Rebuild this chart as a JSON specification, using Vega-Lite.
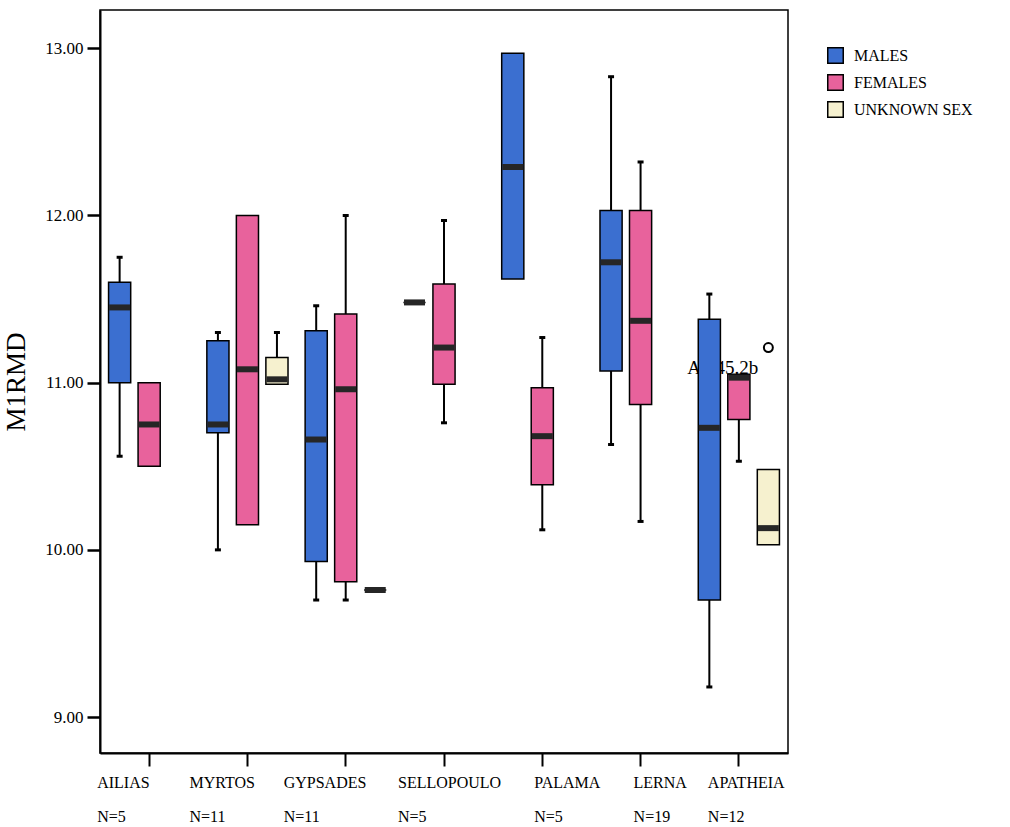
{
  "$schema": "https://vega.github.io/schema/vega-lite/v6.json",
  "width": 688,
  "height": 743,
  "autosize": {"type": "none"},
  "padding": {"left": 100, "top": 10, "right": 222, "bottom": 74},
  "background": "white",
  "config": {
    "view": {"stroke": "black", "strokeWidth": 1.5},
    "font": "Liberation Serif",
    "axis": {"grid": false, "labelColor": "black", "titleColor": "black", "labelFont": "Liberation Serif", "titleFont": "Liberation Serif", "domainColor": "black", "tickColor": "black"},
    "axisY": {"domainWidth": 2, "tickSize": 13, "tickWidth": 2.5, "labelFontSize": 17, "labelPadding": 4, "titleFontSize": 27, "titleFontWeight": "normal", "titlePadding": 14}
  },
  "datasets": {
    "boxes": [
      {"site": "AILIAS", "sex": "MALES", "lo": 10.56, "q1": 11.00, "med": 11.45, "q3": 11.60, "hi": 11.75},
      {"site": "AILIAS", "sex": "FEMALES", "lo": 10.50, "q1": 10.50, "med": 10.75, "q3": 11.00, "hi": 11.00},
      {"site": "MYRTOS", "sex": "MALES", "lo": 10.00, "q1": 10.70, "med": 10.75, "q3": 11.25, "hi": 11.30},
      {"site": "MYRTOS", "sex": "FEMALES", "lo": 10.15, "q1": 10.15, "med": 11.08, "q3": 12.00, "hi": 12.00},
      {"site": "MYRTOS", "sex": "UNKNOWN SEX", "lo": 10.99, "q1": 10.99, "med": 11.02, "q3": 11.15, "hi": 11.30},
      {"site": "GYPSADES", "sex": "MALES", "lo": 9.70, "q1": 9.93, "med": 10.66, "q3": 11.31, "hi": 11.46},
      {"site": "GYPSADES", "sex": "FEMALES", "lo": 9.70, "q1": 9.81, "med": 10.96, "q3": 11.41, "hi": 12.00},
      {"site": "GYPSADES", "sex": "UNKNOWN SEX", "lo": 9.76, "q1": 9.76, "med": 9.76, "q3": 9.76, "hi": 9.76},
      {"site": "SELLOPOULO", "sex": "MALES", "lo": 11.48, "q1": 11.48, "med": 11.48, "q3": 11.48, "hi": 11.48},
      {"site": "SELLOPOULO", "sex": "FEMALES", "lo": 10.76, "q1": 10.99, "med": 11.21, "q3": 11.59, "hi": 11.97},
      {"site": "PALAMA", "sex": "MALES", "lo": 11.62, "q1": 11.62, "med": 12.29, "q3": 12.97, "hi": 12.97},
      {"site": "PALAMA", "sex": "FEMALES", "lo": 10.12, "q1": 10.39, "med": 10.68, "q3": 10.97, "hi": 11.27},
      {"site": "LERNA", "sex": "MALES", "lo": 10.63, "q1": 11.07, "med": 11.72, "q3": 12.03, "hi": 12.83},
      {"site": "LERNA", "sex": "FEMALES", "lo": 10.17, "q1": 10.87, "med": 11.37, "q3": 12.03, "hi": 12.32},
      {"site": "APATHEIA", "sex": "MALES", "lo": 9.18, "q1": 9.70, "med": 10.73, "q3": 11.38, "hi": 11.53},
      {"site": "APATHEIA", "sex": "FEMALES", "lo": 10.53, "q1": 10.78, "med": 11.03, "q3": 11.05, "hi": 11.05},
      {"site": "APATHEIA", "sex": "UNKNOWN SEX", "lo": 10.03, "q1": 10.03, "med": 10.13, "q3": 10.48, "hi": 10.48}
    ],
    "outliers": [
      {"site": "APATHEIA", "sex": "UNKNOWN SEX", "value": 11.21, "label": "AP 45.2b"}
    ]
  },
  "encoding": {
    "x": {
      "field": "site",
      "type": "nominal",
      "scale": {"domain": ["AILIAS", "MYRTOS", "GYPSADES", "SELLOPOULO", "PALAMA", "LERNA", "APATHEIA"], "paddingInner": 0, "paddingOuter": 0},
      "axis": {
        "title": null,
        "labelExpr": "[datum.label, {'AILIAS':'N=5','MYRTOS':'N=11','GYPSADES':'N=11','SELLOPOULO':'N=5','PALAMA':'N=5','LERNA':'N=19','APATHEIA':'N=12'}[datum.label]]",
        "labelAlign": "left",
        "labelBaseline": "top",
        "labelAngle": 0,
        "labelOffset": {
          "condition": [
            {"test": "datum.value === 'AILIAS'", "value": -52},
            {"test": "datum.value === 'MYRTOS'", "value": -58},
            {"test": "datum.value === 'GYPSADES'", "value": -62},
            {"test": "datum.value === 'SELLOPOULO'", "value": -46},
            {"test": "datum.value === 'PALAMA'", "value": -8},
            {"test": "datum.value === 'LERNA'", "value": -7}
          ],
          "value": -31
        },
        "labelFontSize": 16,
        "labelLineHeight": 34,
        "labelPadding": 8,
        "tickSize": 13,
        "tickWidth": 2,
        "domainWidth": 2,
        "labelOverlap": false,
        "labelBound": false,
        "labelFlush": false
      }
    },
    "xOffset": {
      "field": "sex",
      "type": "nominal",
      "scale": {"domain": ["MALES", "FEMALES", "UNKNOWN SEX"], "paddingInner": 0.25, "paddingOuter": 0.29}
    }
  },
  "layer": [
    {
      "data": {"name": "outliers"},
      "mark": {"type": "text", "align": "right", "baseline": "middle", "dx": -10, "dy": 20, "fontSize": 19, "font": "Liberation Serif", "color": "black"},
      "encoding": {
        "y": {"field": "value", "type": "quantitative", "title": "M1RMD", "scale": {"domain": [8.785, 13.229], "nice": false, "zero": false}, "axis": {"values": [9, 10, 11, 12, 13], "format": ".2f"}},
        "text": {"field": "label", "type": "nominal"}
      }
    },
    {
      "data": {"name": "boxes"},
      "mark": {"type": "rule", "color": "black", "strokeWidth": 2},
      "encoding": {
        "y": {"field": "lo", "type": "quantitative", "title": "M1RMD"},
        "y2": {"field": "hi"}
      }
    },
    {
      "data": {"name": "boxes"},
      "mark": {"type": "bar", "stroke": "black", "strokeWidth": 1.5},
      "encoding": {
        "y": {"field": "q1", "type": "quantitative", "title": "M1RMD"},
        "y2": {"field": "q3"},
        "fill": {
          "field": "sex",
          "type": "nominal",
          "scale": {"domain": ["MALES", "FEMALES", "UNKNOWN SEX"], "range": ["#3b6fd0", "#e8629c", "#f6f1cf"]},
          "legend": {
            "title": null,
            "orient": "none",
            "legendX": 727,
            "legendY": 37,
            "symbolType": "square",
            "symbolSize": 240,
            "symbolStrokeColor": "black",
            "symbolStrokeWidth": 1.5,
            "labelFont": "Liberation Serif",
            "labelFontSize": 16,
            "labelColor": "black",
            "rowPadding": 4,
            "labelOffset": 10,
            "padding": 0
          }
        }
      }
    },
    {
      "data": {"name": "boxes"},
      "mark": {"type": "tick", "color": "#262626", "thickness": 6, "size": 21, "opacity": 1},
      "encoding": {
        "y": {"field": "med", "type": "quantitative", "title": "M1RMD"}
      }
    },
    {
      "data": {"name": "boxes"},
      "transform": [{"filter": "datum.hi > datum.q3"}],
      "mark": {"type": "tick", "color": "black", "thickness": 3, "size": 6, "opacity": 1},
      "encoding": {
        "y": {"field": "hi", "type": "quantitative", "title": "M1RMD"}
      }
    },
    {
      "data": {"name": "boxes"},
      "transform": [{"filter": "datum.lo < datum.q1"}],
      "mark": {"type": "tick", "color": "black", "thickness": 3, "size": 6, "opacity": 1},
      "encoding": {
        "y": {"field": "lo", "type": "quantitative", "title": "M1RMD"}
      }
    },
    {
      "data": {"name": "outliers"},
      "mark": {"type": "point", "shape": "circle", "filled": false, "stroke": "black", "strokeWidth": 2, "size": 80, "opacity": 1},
      "encoding": {
        "y": {"field": "value", "type": "quantitative", "title": "M1RMD"}
      }
    }
  ]
}
